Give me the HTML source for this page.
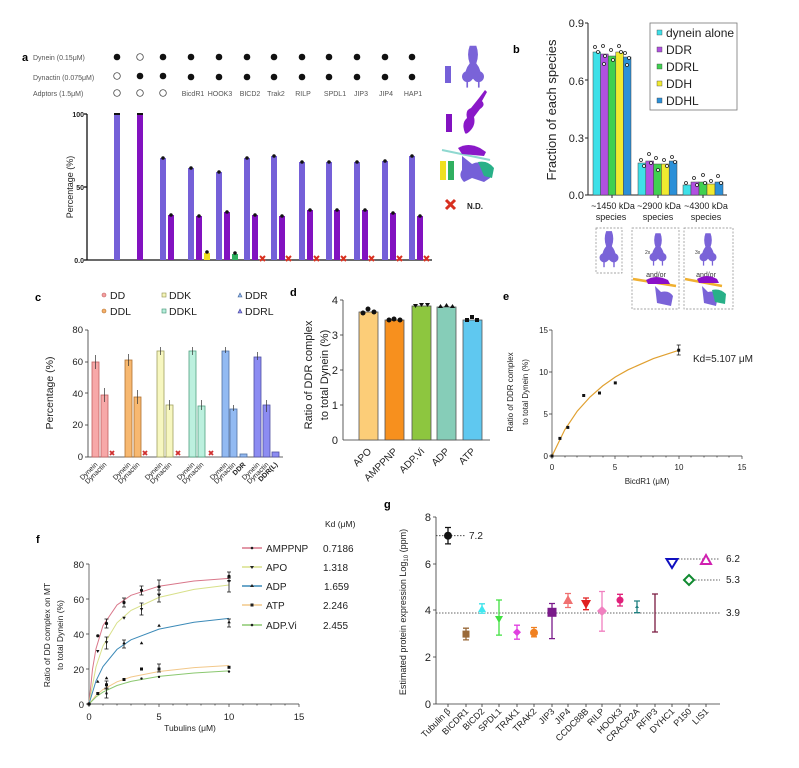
<!DOCTYPE html>
<html><head><meta charset="utf-8"><style>
body{margin:0;background:#fff}
svg{display:block;font-family:"Liberation Sans",Arial,sans-serif}
</style></head><body>
<svg width="799" height="768" viewBox="0 0 799 768" xmlns="http://www.w3.org/2000/svg">
<defs>
<g id="dyn"><path d="M-3,-22 Q-6,-14 -3,-6 Q-8,0 -7,8 Q-4,12 0,8 Q4,12 7,8 Q8,0 3,-6 Q6,-14 3,-22 Z" fill="#7a63d8"/><circle cx="-5" cy="6" r="5" fill="#7a63d8"/><circle cx="5" cy="6" r="5" fill="#7a63d8"/><rect x="-6" y="10" width="1.5" height="6" fill="#7a63d8"/><rect x="4.5" y="10" width="1.5" height="6" fill="#7a63d8"/></g>
</defs>
<rect width="799" height="768" fill="#fff"/>

<!-- ===== Panel a ===== -->
<g font-size="7" fill="#555">
<text x="22" y="61" font-size="11" font-weight="bold" fill="#000">a</text>
<text x="33" y="60">Dynein (0.15μM)</text>
<text x="33" y="80">Dynactin (0.075μM)</text>
<text x="33" y="96">Adptors (1.5μM)</text>
</g>
<g fill="#111">
<circle cx="117" cy="57" r="3.3"/><circle cx="140" cy="57" r="3.3" fill="#fff" stroke="#333" stroke-width="0.7"/><circle cx="163" cy="57" r="3.3"/><circle cx="191" cy="57" r="3.3"/><circle cx="219" cy="57" r="3.3"/><circle cx="247" cy="57" r="3.3"/><circle cx="274" cy="57" r="3.3"/><circle cx="302" cy="57" r="3.3"/><circle cx="329" cy="57" r="3.3"/><circle cx="357" cy="57" r="3.3"/><circle cx="385" cy="57" r="3.3"/><circle cx="412" cy="57" r="3.3"/>
<circle cx="117" cy="76" r="3.3" fill="#fff" stroke="#333" stroke-width="0.7"/><circle cx="140" cy="76" r="3.3"/><circle cx="163" cy="76" r="3.3"/><circle cx="191" cy="77" r="3.3"/><circle cx="219" cy="77" r="3.3"/><circle cx="247" cy="77" r="3.3"/><circle cx="274" cy="77" r="3.3"/><circle cx="302" cy="77" r="3.3"/><circle cx="329" cy="77" r="3.3"/><circle cx="357" cy="77" r="3.3"/><circle cx="385" cy="77" r="3.3"/><circle cx="412" cy="77" r="3.3"/>
<circle cx="117" cy="93" r="3.3" fill="#fff" stroke="#333" stroke-width="0.7"/><circle cx="140" cy="93" r="3.3" fill="#fff" stroke="#333" stroke-width="0.7"/><circle cx="163" cy="93" r="3.3" fill="#fff" stroke="#333" stroke-width="0.7"/>
</g>
<g font-size="7" fill="#555" text-anchor="middle">
<text x="193" y="96">BicdR1</text><text x="220" y="96">HOOK3</text><text x="250" y="96">BICD2</text><text x="276" y="96">Trak2</text><text x="303" y="96">RILP</text><text x="335" y="96">SPDL1</text><text x="361" y="96">JIP3</text><text x="386" y="96">JIP4</text><text x="413" y="96">HAP1</text>
</g>
<g font-size="7" fill="#222" text-anchor="end" font-weight="bold">
<text x="84" y="117">100</text><text x="84" y="190">50</text><text x="84" y="263">0.0</text>
</g>
<text transform="translate(73,187) rotate(-90)" font-size="9" fill="#222" text-anchor="middle">Percentage (%)</text>
<g stroke="#111" stroke-width="1.3">
<line x1="87" y1="114" x2="87" y2="260"/><line x1="87" y1="260" x2="432" y2="260"/>
<line x1="84" y1="114" x2="87" y2="114"/><line x1="84" y1="187" x2="87" y2="187"/><line x1="84" y1="260" x2="87" y2="260"/>
</g>
<g fill="#7560d8">
<rect x="114" y="114" width="6" height="146"/>
<rect x="160" y="158" width="6" height="102"/><rect x="188" y="168" width="6" height="92"/><rect x="216" y="172" width="6" height="88"/><rect x="244" y="158" width="6" height="102"/><rect x="271" y="156" width="6" height="104"/><rect x="299" y="162" width="6" height="98"/><rect x="326" y="162" width="6" height="98"/><rect x="354" y="162" width="6" height="98"/><rect x="382" y="161" width="6" height="99"/><rect x="409" y="156" width="6" height="104"/>
</g>
<g fill="#8212c0">
<rect x="137" y="114" width="6" height="146"/>
<rect x="168" y="215" width="6" height="45"/><rect x="196" y="216" width="6" height="44"/><rect x="224" y="212" width="6" height="48"/><rect x="252" y="215" width="6" height="45"/><rect x="279" y="216" width="6" height="44"/><rect x="307" y="210" width="6" height="50"/><rect x="334" y="210" width="6" height="50"/><rect x="362" y="210" width="6" height="50"/><rect x="390" y="213" width="6" height="47"/><rect x="417" y="216" width="6" height="44"/>
</g>
<rect x="204" y="253" width="6" height="7" fill="#f0e020"/><rect x="232" y="254" width="6" height="6" fill="#30b060"/>
<g fill="#111">
<rect x="114" y="113" width="6" height="2"/><rect x="137" y="113" width="6" height="2"/>
<circle cx="163" cy="158" r="1.8"/><circle cx="191" cy="168" r="1.8"/><circle cx="219" cy="172" r="1.8"/><circle cx="247" cy="158" r="1.8"/><circle cx="274" cy="156" r="1.8"/><circle cx="302" cy="162" r="1.8"/><circle cx="329" cy="162" r="1.8"/><circle cx="357" cy="162" r="1.8"/><circle cx="385" cy="161" r="1.8"/><circle cx="412" cy="156" r="1.8"/>
<circle cx="171" cy="215" r="1.8"/><circle cx="199" cy="216" r="1.8"/><circle cx="227" cy="212" r="1.8"/><circle cx="255" cy="215" r="1.8"/><circle cx="282" cy="216" r="1.8"/><circle cx="310" cy="210" r="1.8"/><circle cx="337" cy="210" r="1.8"/><circle cx="365" cy="210" r="1.8"/><circle cx="393" cy="213" r="1.8"/><circle cx="420" cy="216" r="1.8"/>
<circle cx="207" cy="252" r="1.8"/><circle cx="235" cy="253" r="1.8"/>
</g>
<g stroke="#d83020" stroke-width="2">
<path d="M260,256 l5,5 M265,256 l-5,5"/><path d="M286,256 l5,5 M291,256 l-5,5"/><path d="M314,256 l5,5 M319,256 l-5,5"/><path d="M341,256 l5,5 M346,256 l-5,5"/><path d="M369,256 l5,5 M374,256 l-5,5"/><path d="M397,256 l5,5 M402,256 l-5,5"/><path d="M424,256 l5,5 M429,256 l-5,5"/>
</g>
<rect x="445" y="66" width="6" height="17" fill="#7560d8"/>
<use href="#dyn" transform="translate(473,70) scale(1.1)"/>
<rect x="446" y="114" width="6" height="18" fill="#8212c0"/>
<path d="M465,133 q-4,-10 2,-15 q-2,-8 4,-10 l8,-10 l6,-8 l2,2 l-5,9 q4,4 -2,8 l-6,8 q2,8 -4,14 q-4,4 -5,2z" fill="#8a18c8"/>
<rect x="440" y="161" width="6" height="19" fill="#f0e020"/><rect x="448" y="161" width="6" height="19" fill="#30b060"/>
<line x1="442" y1="150" x2="490" y2="160" stroke="#8fd8d0" stroke-width="2"/>
<path d="M458,148 q10,-6 22,0 l6,4 l-2,4 l-22,-2z" fill="#8a18c8"/>
<path d="M462,156 l10,8 q8,-4 14,2 q6,4 4,12 l-6,4 l-12,-4 l-8,4 q-6,-6 -2,-12z" fill="#7560d8"/>
<path d="M478,162 q10,-2 16,6 l-2,10 l-8,-2z" fill="#28b088"/>
<path d="M446,200 l9,9 M455,200 l-9,9" stroke="#d83020" stroke-width="3"/>
<text x="467" y="209" font-size="8" font-weight="bold" fill="#222">N.D.</text>

<!-- ===== Panel b ===== -->
<text x="513" y="53" font-size="11" font-weight="bold">b</text>
<text transform="translate(556,110) rotate(-90)" font-size="13" fill="#222" text-anchor="middle">Fraction of each species</text>
<g font-size="11" fill="#222" text-anchor="end">
<text x="584" y="27">0.9</text><text x="584" y="85">0.6</text><text x="584" y="142">0.3</text><text x="584" y="199">0.0</text>
</g>
<g stroke="#222" stroke-width="1">
<line x1="588" y1="23" x2="588" y2="195"/><line x1="588" y1="195" x2="727" y2="195"/>
<line x1="585" y1="23" x2="588" y2="23"/><line x1="585" y1="80" x2="588" y2="80"/><line x1="585" y1="138" x2="588" y2="138"/><line x1="585" y1="195" x2="588" y2="195"/>
<line x1="612" y1="195" x2="612" y2="198"/><line x1="658" y1="195" x2="658" y2="198"/><line x1="703" y1="195" x2="703" y2="198"/>
</g>
<g stroke="#444" stroke-width="0.5">
<rect x="593" y="52" width="7.6" height="143" fill="#3ee0e8"/><rect x="600.6" y="54" width="7.6" height="141" fill="#b050e0"/><rect x="608.2" y="56" width="7.6" height="139" fill="#40d050"/><rect x="615.8" y="52" width="7.6" height="143" fill="#f0ea30"/><rect x="623.4" y="57" width="7.6" height="138" fill="#2b90d8"/>
<rect x="638" y="163" width="7.8" height="32" fill="#3ee0e8"/><rect x="645.8" y="161" width="7.8" height="34" fill="#b050e0"/><rect x="653.6" y="164" width="7.8" height="31" fill="#40d050"/><rect x="661.4" y="164" width="7.8" height="31" fill="#f0ea30"/><rect x="669.2" y="161" width="7.8" height="34" fill="#2b90d8"/>
<rect x="683" y="185" width="8" height="10" fill="#3ee0e8"/><rect x="691" y="182" width="8" height="13" fill="#b050e0"/><rect x="699" y="182" width="8" height="13" fill="#40d050"/><rect x="707" y="184" width="8" height="11" fill="#f0ea30"/><rect x="715" y="182" width="8" height="13" fill="#2b90d8"/>
</g>
<g fill="#fff" stroke="#222" stroke-width="0.8">
<circle cx="595" cy="47" r="1.5"/><circle cx="598" cy="52" r="1.5"/><circle cx="603" cy="46" r="1.5"/><circle cx="605" cy="56" r="1.5"/><circle cx="604" cy="64" r="1.5"/><circle cx="611" cy="50" r="1.5"/><circle cx="613" cy="60" r="1.5"/><circle cx="619" cy="46" r="1.5"/><circle cx="621" cy="52" r="1.5"/><circle cx="625" cy="53" r="1.5"/><circle cx="629" cy="58" r="1.5"/><circle cx="627" cy="65" r="1.5"/>
<circle cx="641" cy="160" r="1.5"/><circle cx="644" cy="166" r="1.5"/><circle cx="649" cy="154" r="1.5"/><circle cx="651" cy="163" r="1.5"/><circle cx="656" cy="158" r="1.5"/><circle cx="658" cy="170" r="1.5"/><circle cx="664" cy="160" r="1.5"/><circle cx="667" cy="166" r="1.5"/><circle cx="672" cy="157" r="1.5"/><circle cx="675" cy="162" r="1.5"/>
<circle cx="686" cy="183" r="1.5"/><circle cx="694" cy="178" r="1.5"/><circle cx="697" cy="185" r="1.5"/><circle cx="703" cy="175" r="1.5"/><circle cx="705" cy="183" r="1.5"/><circle cx="711" cy="181" r="1.5"/><circle cx="718" cy="176" r="1.5"/><circle cx="721" cy="183" r="1.5"/>
</g>
<rect x="650" y="23" width="87" height="87" fill="#fff" stroke="#777" stroke-width="0.8"/>
<g font-size="12" fill="#222">
<rect x="657" y="30" width="5" height="5" fill="#3ee0e8" stroke="#444" stroke-width="0.4"/><text x="666" y="37">dynein alone</text>
<rect x="657" y="47" width="5" height="5" fill="#b050e0" stroke="#444" stroke-width="0.4"/><text x="666" y="54">DDR</text>
<rect x="657" y="64" width="5" height="5" fill="#40d050" stroke="#444" stroke-width="0.4"/><text x="666" y="71">DDRL</text>
<rect x="657" y="81" width="5" height="5" fill="#f0ea30" stroke="#444" stroke-width="0.4"/><text x="666" y="88">DDH</text>
<rect x="657" y="98" width="5" height="5" fill="#2b90d8" stroke="#444" stroke-width="0.4"/><text x="666" y="105">DDHL</text>
</g>
<g font-size="9" fill="#222" text-anchor="middle">
<text x="613" y="209">~1450 kDa</text><text x="611" y="220">species</text>
<text x="659" y="209">~2900 kDa</text><text x="658" y="220">species</text>
<text x="706" y="209">~4300 kDa</text><text x="706" y="220">species</text>
</g>
<g fill="none" stroke="#888" stroke-width="0.7" stroke-dasharray="2,1.5">
<rect x="596" y="228" width="26" height="45"/><rect x="632" y="228" width="47" height="81"/><rect x="684" y="228" width="49" height="81"/>
</g>
<use href="#dyn" transform="translate(609,252) scale(0.95)"/>
<use href="#dyn" transform="translate(658,252) scale(0.85)"/>
<use href="#dyn" transform="translate(708,252) scale(0.85)"/>
<text x="645" y="254" font-size="5" fill="#333">2x</text><text x="695" y="254" font-size="5" fill="#333">3x</text>
<text x="656" y="277" font-size="7" fill="#333" text-anchor="middle">and/or</text><text x="706" y="277" font-size="7" fill="#333" text-anchor="middle">and/or</text>
<line x1="633" y1="279" x2="676" y2="286" stroke="#f0b030" stroke-width="2.5"/><line x1="685" y1="279" x2="722" y2="286" stroke="#f0b030" stroke-width="2.5"/>
<path d="M646,280 q10,-6 22,0 l2,4 l-22,0z" fill="#8a10c8"/><path d="M697,279 q10,-6 20,0 l2,4 l-20,0z" fill="#8a10c8"/>
<path d="M655,286 l6,6 q8,-2 12,4 l-2,10 l-14,-3z" fill="#7a63d8"/><path d="M702,286 l6,6 q8,-2 10,4 l-2,10 l-12,-3z" fill="#7a63d8"/>
<path d="M712,290 q8,-2 14,4 l-1,10 l-10,-2z" fill="#28b088"/>

<!-- ===== Panel c ===== -->
<text x="35" y="301" font-size="11" font-weight="bold">c</text>
<g font-size="10.5" fill="#222">
<circle cx="104" cy="295" r="2" fill="#f4a0a0" stroke="#c06060" stroke-width="0.6"/><text x="110" y="299">DD</text>
<circle cx="104" cy="311" r="2" fill="#f5b06a" stroke="#b07030" stroke-width="0.6"/><text x="110" y="315">DDL</text>
<rect x="162" y="293" width="4" height="4" fill="#f5f5b8" stroke="#909050" stroke-width="0.6"/><text x="169" y="299">DDK</text>
<rect x="162" y="309" width="4" height="4" fill="#b8eedd" stroke="#409070" stroke-width="0.6"/><text x="169" y="315">DDKL</text>
<path d="M238,297 l2,-4 l2,4z" fill="#90b8f0" stroke="#406090" stroke-width="0.6"/><text x="245" y="299">DDR</text>
<path d="M238,313 l2,-4 l2,4z" fill="#8a8af0" stroke="#404090" stroke-width="0.6"/><text x="245" y="315">DDRL</text>
</g>
<g font-size="9.5" fill="#222" text-anchor="end">
<text x="83" y="333">80</text><text x="83" y="365">60</text><text x="83" y="397">40</text><text x="83" y="428">20</text><text x="83" y="460">0</text>
</g>
<text transform="translate(53,393) rotate(-90)" font-size="10.5" fill="#222" text-anchor="middle">Percentage (%)</text>
<g stroke="#333" stroke-width="0.8">
<line x1="88" y1="330" x2="88" y2="457"/><line x1="88" y1="457" x2="283" y2="457"/>
<line x1="85" y1="330" x2="88" y2="330"/><line x1="85" y1="362" x2="88" y2="362"/><line x1="85" y1="393" x2="88" y2="393"/><line x1="85" y1="425" x2="88" y2="425"/><line x1="85" y1="457" x2="88" y2="457"/>
</g>
<g stroke-width="0.8">
<rect x="92" y="362" width="7" height="95" fill="#f7a8a8" stroke="#c06060"/><rect x="101" y="395" width="7" height="62" fill="#f7a8a8" stroke="#c06060"/>
<rect x="125" y="360" width="7" height="97" fill="#f7b870" stroke="#b07030"/><rect x="134" y="397" width="7" height="60" fill="#f7b870" stroke="#b07030"/>
<rect x="157" y="351" width="7" height="106" fill="#f7f7c0" stroke="#a0a060"/><rect x="166" y="405" width="7" height="52" fill="#f7f7c0" stroke="#a0a060"/>
<rect x="189" y="351" width="7" height="106" fill="#bcf0de" stroke="#50a080"/><rect x="198" y="406" width="7" height="51" fill="#bcf0de" stroke="#50a080"/>
<rect x="222" y="351" width="7" height="106" fill="#92baf2" stroke="#5070a0"/><rect x="230" y="409" width="7" height="48" fill="#92baf2" stroke="#5070a0"/><rect x="240" y="454" width="7" height="3" fill="#92baf2" stroke="#5070a0"/>
<rect x="254" y="357" width="7" height="100" fill="#8c8cf2" stroke="#5050a0"/><rect x="263" y="405" width="7" height="52" fill="#8c8cf2" stroke="#5050a0"/><rect x="272" y="452" width="7" height="5" fill="#8c8cf2" stroke="#5050a0"/>
</g>
<g stroke="#333" stroke-width="0.7" fill="none">
<path d="M95.5,355 v14 M104.5,388 v14 M128.5,354 v12 M137.5,390 v14 M160.5,347 v8 M169.5,400 v10 M192.5,347 v8 M201.5,400 v10 M225.5,347 v6 M233.5,405 v6 M257.5,352 v8 M266.5,400 v12"/>
</g>
<g stroke="#d03030" stroke-width="1.8">
<path d="M110,451 l4,4 M114,451 l-4,4"/><path d="M143,451 l4,4 M147,451 l-4,4"/><path d="M176,451 l4,4 M180,451 l-4,4"/><path d="M209,451 l4,4 M213,451 l-4,4"/>
</g>
<g font-size="7" fill="#222" text-anchor="end">
<text transform="translate(98,465) rotate(-45)">Dynein</text><text transform="translate(107,465) rotate(-45)">Dynactin</text>
<text transform="translate(131,465) rotate(-45)">Dynein</text><text transform="translate(140,465) rotate(-45)">Dynactin</text>
<text transform="translate(163,465) rotate(-45)">Dynein</text><text transform="translate(172,465) rotate(-45)">Dynactin</text>
<text transform="translate(195,465) rotate(-45)">Dynein</text><text transform="translate(204,465) rotate(-45)">Dynactin</text>
<text transform="translate(228,465) rotate(-45)">Dynein</text><text transform="translate(236,465) rotate(-45)">Dynactin</text><text transform="translate(246,465) rotate(-45)" font-weight="bold">DDR</text>
<text transform="translate(260,465) rotate(-45)">Dynein</text><text transform="translate(269,465) rotate(-45)">Dynactin</text><text transform="translate(278,465) rotate(-45)" font-weight="bold">DDR(L)</text>
</g>

<!-- ===== Panel d ===== -->
<text x="290" y="296" font-size="11" font-weight="bold">d</text>
<text transform="translate(312,375) rotate(-90)" font-size="11" fill="#222" text-anchor="middle">Ratio of DDR complex</text>
<text transform="translate(328,375) rotate(-90)" font-size="11" fill="#222" text-anchor="middle">to total Dynein (%)</text>
<g font-size="11" fill="#222" text-anchor="end">
<text x="338" y="304">4</text><text x="338" y="339">3</text><text x="338" y="374">2</text><text x="338" y="409">1</text><text x="338" y="444">0</text>
</g>
<g stroke="#333" stroke-width="0.8">
<line x1="343" y1="300" x2="343" y2="440"/><line x1="343" y1="440" x2="490" y2="440"/>
<line x1="340" y1="300" x2="343" y2="300"/><line x1="340" y1="335" x2="343" y2="335"/><line x1="340" y1="370" x2="343" y2="370"/><line x1="340" y1="405" x2="343" y2="405"/>
</g>
<g stroke="#555" stroke-width="0.8">
<rect x="359" y="312" width="19" height="128" fill="#fccd78"/><rect x="385" y="320" width="19" height="120" fill="#f7901e"/><rect x="412" y="306" width="19" height="134" fill="#8dc63f"/><rect x="437" y="307" width="19" height="133" fill="#86cdb8"/><rect x="463" y="320" width="19" height="120" fill="#5fc8f0"/>
</g>
<g fill="#111">
<circle cx="363" cy="313" r="2.5"/><circle cx="368" cy="309" r="2.5"/><circle cx="374" cy="312" r="2.5"/>
<circle cx="389" cy="320" r="2.5"/><circle cx="394" cy="319" r="2.5"/><circle cx="400" cy="320" r="2.5"/>
<path d="M413,304 l5,0 l-2.5,4z M419,303 l5,0 l-2.5,4z M425,303 l5,0 l-2.5,4z"/>
<path d="M438,308 l2.5,-4 l2.5,4z M444,307 l2.5,-4 l2.5,4z M450,308 l2.5,-4 l2.5,4z"/>
<rect x="465" y="318" width="4" height="4"/><rect x="470" y="315" width="4" height="4"/><rect x="475" y="318" width="4" height="4"/>
</g>
<g font-size="10" fill="#222" text-anchor="end">
<text transform="translate(372,452) rotate(-45)">APO</text><text transform="translate(398,452) rotate(-45)">AMPPNP</text><text transform="translate(425,452) rotate(-45)">ADP.Vi</text><text transform="translate(450,452) rotate(-45)">ADP</text><text transform="translate(476,452) rotate(-45)">ATP</text>
</g>

<!-- ===== Panel e ===== -->
<text x="503" y="300" font-size="11" font-weight="bold">e</text>
<text transform="translate(513,392) rotate(-90)" font-size="8" fill="#222" text-anchor="middle">Ratio of DDR complex</text>
<text transform="translate(528,392) rotate(-90)" font-size="8" fill="#222" text-anchor="middle">to total Dynein (%)</text>
<g font-size="8" fill="#222" text-anchor="end">
<text x="548" y="333">15</text><text x="548" y="375">10</text><text x="548" y="417">5</text><text x="548" y="459">0</text>
</g>
<g font-size="8" fill="#222" text-anchor="middle">
<text x="552" y="470">0</text><text x="615" y="470">5</text><text x="679" y="470">10</text><text x="742" y="470">15</text>
<text x="647" y="484">BicdR1 (μM)</text>
</g>
<g stroke="#333" stroke-width="0.7">
<line x1="552" y1="330" x2="552" y2="456"/><line x1="552" y1="456" x2="742" y2="456"/>
<path d="M549,330h3M549,372h3M549,414h3M549,456h3M552,456v3M615,456v3M679,456v3M742,456v3"/>
<path d="M552,456v1.5M565,456v1.5M577,456v1.5M590,456v1.5M603,456v1.5M628,456v1.5M641,456v1.5M653,456v1.5M666,456v1.5M691,456v1.5M704,456v1.5M717,456v1.5M729,456v1.5"/>
</g>
<path d="M552,456 L564.7,429.9 L577.3,411.1 L590,397 L602.7,385.9 L615.3,377 L628,369.8 L653.4,358.6 L678.7,350.3" fill="none" stroke="#e0a030" stroke-width="1.2"/>
<g fill="#111"><rect x="550.5" y="454.5" width="3" height="3"/><rect x="558.4" y="436.9" width="3" height="3"/><rect x="566.3" y="425.9" width="3" height="3"/><rect x="582.2" y="394" width="3" height="3"/><rect x="598" y="391.5" width="3" height="3"/><rect x="613.8" y="381.4" width="3" height="3"/><rect x="677.2" y="348.7" width="3" height="3"/></g>
<path d="M678.7,345v10M676.7,345h4M676.7,355h4" stroke="#111" stroke-width="0.7"/>
<text x="693" y="362" font-size="10" fill="#222">Kd=5.107 μM</text>

<!-- ===== Panel f ===== -->
<text x="36" y="543" font-size="11" font-weight="bold">f</text>
<text transform="translate(50,635) rotate(-90)" font-size="8.5" fill="#222" text-anchor="middle">Ratio of DD complex on MT</text>
<text transform="translate(63,635) rotate(-90)" font-size="8.5" fill="#222" text-anchor="middle">to  total Dynein (%)</text>
<g font-size="9.5" fill="#222" text-anchor="end">
<text x="84" y="568">80</text><text x="84" y="603">60</text><text x="84" y="638">40</text><text x="84" y="673">20</text><text x="84" y="708">0</text>
</g>
<g font-size="9.5" fill="#222" text-anchor="middle">
<text x="89" y="720">0</text><text x="159" y="720">5</text><text x="229" y="720">10</text><text x="299" y="720">15</text>
<text x="190" y="731" font-size="8.5">Tubulins (μM)</text>
</g>
<g stroke="#333" stroke-width="0.7">
<line x1="89" y1="564" x2="89" y2="704"/><line x1="89" y1="704" x2="299" y2="704"/>
<path d="M86,564h3M86,599h3M86,634h3M86,669h3M86,704h3M89,704v3M159,704v3M229,704v3M299,704v3"/>
<path d="M103,704v1.5M117,704v1.5M131,704v1.5M145,704v1.5M173,704v1.5M187,704v1.5M201,704v1.5M215,704v1.5M243,704v1.5M257,704v1.5M271,704v1.5M285,704v1.5"/>
</g>
<g fill="none" stroke-width="1">
<path d="M89,704 L92.5,669.2 L96,648.7 L103,625.6 L117,605 L131,595.3 L159,586.2 L194,581 L229,578.4" stroke="#d9778a"/>
<path d="M89,704 L96,666.9 L103,645.9 L117,622.8 L131,610.4 L159,597.4 L194,589.4 L229,585" stroke="#d8e08a"/>
<path d="M89,704 L96,680.9 L103,666.5 L117,649.4 L131,639.8 L159,629.1 L194,622.3 L229,618.4" stroke="#3c8ab8"/>
<path d="M89,704 L96,695.4 L103,689.5 L117,681.8 L131,677 L159,671.5 L194,667.6 L229,665.5" stroke="#f2c88a"/>
<path d="M89,704 L96,697 L103,692.1 L117,685.5 L131,681.4 L159,676.4 L194,673 L229,670.9" stroke="#8bc870"/>
</g>
<g fill="#111">
<circle cx="89" cy="704" r="1.8"/>
<circle cx="97.8" cy="635.8" r="1.6"/><circle cx="106.5" cy="623.5" r="1.6"/><circle cx="124" cy="602.5" r="1.6"/><circle cx="141.5" cy="590.3" r="1.6"/><circle cx="159" cy="586.8" r="1.6"/><circle cx="229" cy="576.3" r="1.6"/>
<path d="M96,650 h3.5 l-1.75,3z M104.8,641.3 h3.5 l-1.75,3z M122.3,616.8 h3.5 l-1.75,3z M139.8,608 h3.5 l-1.75,3z M157.3,594 h3.5 l-1.75,3z M227.3,580 h3.5 l-1.75,3z"/>
<path d="M96,682.8 h3.5 l-1.75,-3z M104.8,679.3 h3.5 l-1.75,-3z M122.3,644.3 h3.5 l-1.75,-3z M139.8,644.3 h3.5 l-1.75,-3z M157.3,626.8 h3.5 l-1.75,-3z M227.3,623.3 h3.5 l-1.75,-3z"/>
<rect x="96.3" y="692" width="3" height="3"/><rect x="105" y="683.3" width="3" height="3"/><rect x="122.5" y="678" width="3" height="3"/><rect x="140" y="667.5" width="3" height="3"/><rect x="157.5" y="667.5" width="3" height="3"/><rect x="227.5" y="665.8" width="3" height="3"/>
<circle cx="97.8" cy="693.5" r="1.2"/><circle cx="106.5" cy="693.5" r="1.2"/><circle cx="124" cy="679.5" r="1.2"/><circle cx="141.5" cy="678.6" r="1.2"/><circle cx="159" cy="676.9" r="1.2"/><circle cx="229" cy="671.6" r="1.2"/>
</g>
<g stroke="#111" stroke-width="0.8" fill="none">
<path d="M106.5,619v9M104.5,619h4M104.5,628h4 M106.5,637v12M104.5,637h4M104.5,649h4 M124,598v9M122,598h4M122,607h4 M141.5,586v9M139.5,586h4M139.5,595h4 M141.5,603v12M139.5,603h4M139.5,615h4 M159,580v14M157,580h4M157,594h4 M159,590v12M157,590h4M157,602h4 M229,572v9M227,572h4M227,581h4 M229,578v14M227,578h4M227,592h4 M229,619v8M227,619h4M227,627h4 M106.5,681v8M104.5,681h4M104.5,689h4 M106.5,688v10M104.5,688h4M104.5,698h4 M159,664v8M157,664h4M157,672h4 M124,640v8M122,640h4M122,648h4"/>
</g>
<g font-size="10" fill="#222">
<text x="325" y="527" font-size="8.5">Kd (μM)</text>
<line x1="242" y1="548" x2="262" y2="548" stroke="#d9778a" stroke-width="1.5"/><circle cx="252" cy="548" r="1.3"/><text x="266" y="552">AMPPNP</text><text x="323" y="552">0.7186</text>
<line x1="242" y1="567" x2="262" y2="567" stroke="#d8e08a" stroke-width="1.5"/><path d="M250,566h4l-2,3z"/><text x="266" y="571">APO</text><text x="323" y="571">1.318</text>
<line x1="242" y1="586" x2="262" y2="586" stroke="#3c8ab8" stroke-width="1.5"/><path d="M250,587h4l-2,-3z"/><text x="266" y="590">ADP</text><text x="324" y="590">1.659</text>
<line x1="242" y1="605" x2="262" y2="605" stroke="#f2c88a" stroke-width="1.5"/><rect x="250.5" y="603.5" width="3" height="3"/><text x="266" y="609">ATP</text><text x="323" y="609">2.246</text>
<line x1="242" y1="625" x2="262" y2="625" stroke="#8bc870" stroke-width="1.5"/><circle cx="252" cy="625" r="1.3"/><text x="266" y="629">ADP.Vi</text><text x="323" y="629">2.455</text>
</g>

<!-- ===== Panel g ===== -->
<text x="384" y="508" font-size="11" font-weight="bold">g</text>
<text transform="translate(406,612) rotate(-90)" font-size="9" fill="#222" text-anchor="middle">Estimated protein expression Log<tspan font-size="6" dy="2">10</tspan><tspan dy="-2"> (ppm)</tspan></text>
<g font-size="11" fill="#222" text-anchor="end">
<text x="431" y="521">8</text><text x="431" y="568">6</text><text x="431" y="614">4</text><text x="431" y="661">2</text><text x="431" y="708">0</text>
</g>
<g stroke="#333" stroke-width="0.8">
<line x1="436" y1="517" x2="436" y2="704"/><line x1="436" y1="704" x2="720" y2="704"/>
<path d="M433,517h3M433,564h3M433,610h3M433,657h3M433,704h3"/>
<path d="M448,704v3M466,704v3M482,704v3M499,704v3M517,704v3M534,704v3M552,704v3M568,704v3M586,704v3M602,704v3M620,704v3M637,704v3M655,704v3M672,704v3M689,704v3M706,704v3"/>
</g>
<g stroke="#333" stroke-width="0.8" stroke-dasharray="1.5,1.5" fill="none">
<path d="M436,613 H720"/><path d="M436,535.7 H466"/><path d="M672,559 H720"/><path d="M689,580 H720"/>
</g>
<g font-size="10" fill="#222">
<text x="469" y="539">7.2</text><text x="726" y="562">6.2</text><text x="726" y="583">5.3</text><text x="726" y="616">3.9</text>
</g>
<g stroke-width="1.3" fill="none">
<path d="M448,527.5v16.4M445,527.5h6M445,543.9h6" stroke="#111"/>
<path d="M466,628.2v11.7M463,628.2h6M463,639.9h6" stroke="#9a6a3a"/>
<path d="M482,603.8v9.4M479,603.8h6M479,613.2h6" stroke="#40e0e8"/>
<path d="M499,600v35.1M496,600h6M496,635.1h6" stroke="#40e040"/>
<path d="M517,625.2v14M514,625.2h6M514,639.2h6" stroke="#e040e0"/>
<path d="M534,627.5v9.3M531,627.5h6M531,636.8h6" stroke="#f08020"/>
<path d="M552,603.5v35.1M549,603.5h6M549,638.6h6" stroke="#7a1a8a"/>
<path d="M568,593.5v14M565,593.5h6M565,607.5h6" stroke="#f07070"/>
<path d="M586,598v11.7M583,598h6M583,609.7h6" stroke="#e02020"/>
<path d="M602,591.5v39.7M599,591.5h6M599,631.2h6" stroke="#f080c0"/>
<path d="M620,594.3v11.7M617,594.3h6M617,606h6" stroke="#e0207a"/>
<path d="M637,601v11.7M634,601h6M634,612.7h6" stroke="#208080"/>
<path d="M655,594v38M652,594h6M652,632h6" stroke="#7a1a40"/>
</g>
<circle cx="448" cy="535.7" r="4" fill="#111"/>
<rect x="462.5" y="630.6" width="7" height="7" fill="#9a6a3a"/>
<path d="M478,612 l4,-7 l4,7z" fill="#40e8f0"/>
<path d="M495,616 h8 l-4,7z" fill="#40e040"/>
<path d="M517,628.2 l4,4 l-4,4 l-4,-4z" fill="#e040e0"/>
<circle cx="534" cy="632.7" r="4" fill="#f08020"/>
<rect x="547.5" y="607.8" width="9" height="9" fill="#7a1a8a"/>
<path d="M563,604 l5,-9 l5,9z" fill="#f07070"/>
<path d="M581,600 h10 l-5,9z" fill="#e02020"/>
<path d="M602,606 l5,5 l-5,5 l-5,-5z" fill="#f080c0"/>
<circle cx="620" cy="600.1" r="3.5" fill="#e0207a"/>
<path d="M635,608 l2,-3 l2,3z" fill="#208080"/>
<path d="M666.5,559 h11 l-5.5,9z" fill="#fff" stroke="#1010c0" stroke-width="2"/>
<path d="M689,575 l5,5 l-5,5 l-5,-5z" fill="#fff" stroke="#108a30" stroke-width="2"/>
<path d="M701,564 l5,-9 l5,9z" fill="#fff" stroke="#d020b0" stroke-width="2"/>
<g font-size="9" fill="#222" text-anchor="end">
<text transform="translate(451,712) rotate(-45)">Tubulin β</text>
<text transform="translate(469,712) rotate(-45)">BICDR1</text>
<text transform="translate(485,712) rotate(-45)">BICD2</text>
<text transform="translate(502,712) rotate(-45)">SPDL1</text>
<text transform="translate(520,712) rotate(-45)">TRAK1</text>
<text transform="translate(537,712) rotate(-45)">TRAK2</text>
<text transform="translate(555,712) rotate(-45)">JIP3</text>
<text transform="translate(571,712) rotate(-45)">JIP4</text>
<text transform="translate(589,712) rotate(-45)">CCDC88B</text>
<text transform="translate(605,712) rotate(-45)">RILP</text>
<text transform="translate(623,712) rotate(-45)">HOOK3</text>
<text transform="translate(640,712) rotate(-45)">CRACR2A</text>
<text transform="translate(658,712) rotate(-45)">RFIP3</text>
<text transform="translate(675,712) rotate(-45)">DYHC1</text>
<text transform="translate(692,712) rotate(-45)">P150</text>
<text transform="translate(709,712) rotate(-45)">LIS1</text>
</g>
</svg>
</body></html>
